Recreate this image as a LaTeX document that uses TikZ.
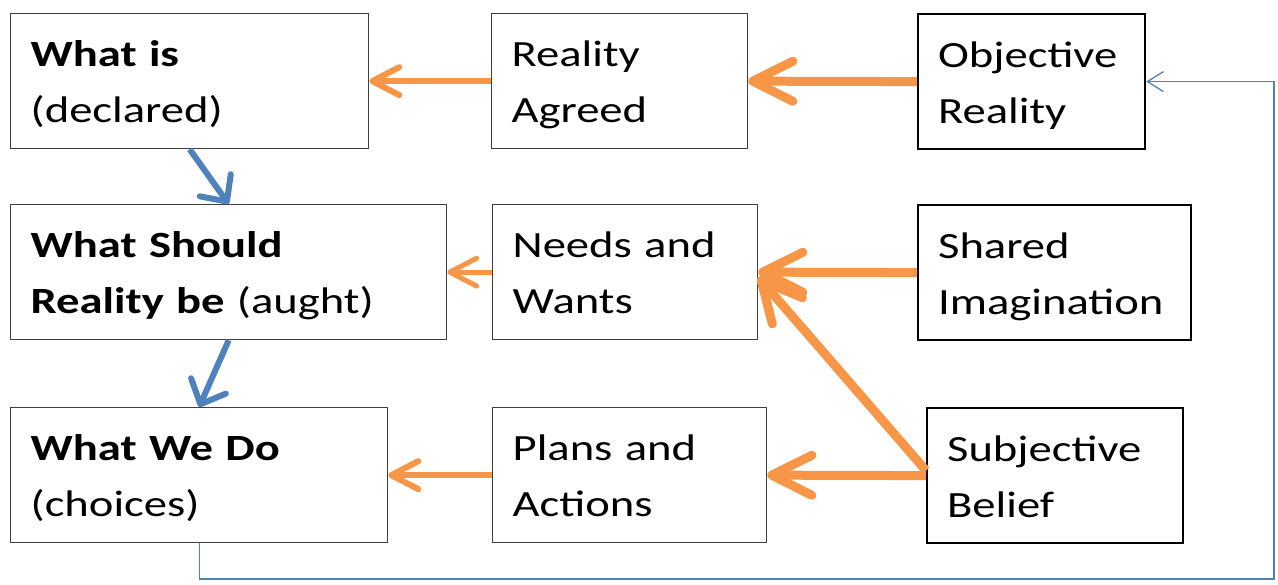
\documentclass[tikz,border=0pt]{standalone}
\usepackage{fontspec}
\setmainfont{Carlito}[FakeStretch=1.26]
\usepackage{tikz}
\usetikzlibrary{arrows.meta, positioning}
\hyphenpenalty=10000

\definecolor{flowor}{HTML}{F79646}
\definecolor{stepblue}{HTML}{4F81BD}
\definecolor{boxgray}{HTML}{3F3F3F}

\newcommand{\upstrut}{\rule{0pt}{43pt}}
\newcommand{\downstrut}{\rule[-16pt]{0pt}{16pt}}

\tikzset{
	box/.style={draw=boxgray, line width=1.3pt, anchor=north west, align=left,
		text width=#1, inner xsep=20pt, inner ysep=0pt, minimum height=135pt,
		font=\fontsize{37}{56}\selectfont},
	mainbox/.style={box=#1, draw=black, line width=2.2pt},
	bigflow/.style={draw=flowor, line width=9pt, -{Straight Barb[round, length=40pt, width=40pt]}},
	smallflow/.style={draw=flowor, line width=6pt, -{Straight Barb[round, length=27pt, width=28pt]}},
	downflow/.style={draw=stepblue, line width=6pt, -{Straight Barb[round, length=20pt, width=38pt]}},
	feedback/.style={draw=stepblue, line width=1.3pt, -{Straight Barb[length=16pt, width=20pt]}}
}

\begin{document}
\begin{tikzpicture}[x=1pt, y=-1pt]
		\useasboundingbox[fill=white] (0,0) rectangle (1278,585);

		\node[box=318pt] (whatis) at (10,13) {\upstrut\textbf{What is}\\(declared)\downstrut};
		\node[box=216pt] (agreed) at (491,13) {\upstrut Reality\\Agreed\downstrut};
		\node[mainbox=187pt] (objective) at (917,13) {\upstrut Objective\\Reality\downstrut};

		\node[box=396pt] (should) at (10,204) {\upstrut\textbf{What Should}\\\textbf{Reality be} (aught)\downstrut};
		\node[box=225pt] (needs) at (492,204) {\upstrut Needs and\\Wants\downstrut};
		\node[mainbox=233pt] (shared) at (917,204) {\upstrut Shared\\Imagination\downstrut};

		\node[box=337pt] (wedo) at (10,407) {\upstrut\textbf{What We Do}\\(choices)\downstrut};
		\node[box=234pt] (plans) at (492,407) {\upstrut Plans and\\Actions\downstrut};
		\node[mainbox=216pt] (subjective) at (926,407) {\upstrut Subjective\\Belief\downstrut};

		\draw[smallflow] (agreed.west) -- (whatis.east);
		\draw[bigflow] (objective.west) -- (agreed.east);
		\draw[smallflow, line width=5pt] (needs.west) -- (should.east);
		\draw[bigflow] (shared.west) -- (needs.east);
		\draw[bigflow] ([yshift=5pt]subjective.west) -- ([yshift=-5pt]needs.east);
		\draw[bigflow] (subjective.west) -- (plans.east);
		\draw[smallflow] (plans.west) -- (wedo.east);

		\draw[downflow] (whatis.south) -- (should.north);
		\draw[downflow] (should.south) -- (wedo.north);

		\coordinate (loopcorner) at (1274,579);
		\draw[feedback] (wedo.south) |- (loopcorner) |- (objective.east);
\end{tikzpicture}
\end{document}
